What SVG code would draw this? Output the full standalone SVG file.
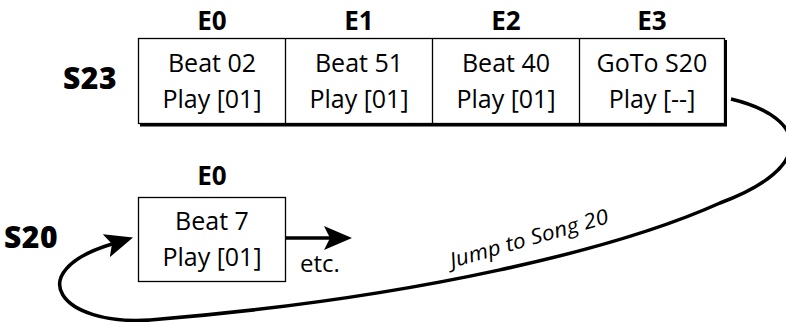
<svg xmlns="http://www.w3.org/2000/svg" width="786" height="322" viewBox="0 0 786 322">
<style>
  .t { font-family: "Open Sans", "Noto Sans", "Liberation Sans", sans-serif; fill: #000; }
  .cell { font-size: 25px; text-anchor: middle; }
  .hdr { font-size: 26px; font-weight: bold; text-anchor: middle; }
  .song { font-size: 30px; font-weight: 800; letter-spacing: 0.5px; }
  .box { fill: #fff; stroke: #000; stroke-width: 1.3; }
  .shadow { stroke: #000; stroke-width: 3; fill: none; }
  .conn { fill: none; stroke: #000; stroke-width: 3.5; }
</style>
<defs>
  <marker id="ah" markerUnits="userSpaceOnUse" markerWidth="30" markerHeight="26" refX="6" refY="12" orient="auto">
    <path d="M0,0 L28,12 L0,24 L6,12 Z" fill="#000"/>
  </marker>
</defs>
<rect width="786" height="322" fill="#fff"/>

<g id="S23">
  <text class="t song" x="63" y="89">S23</text>
  <line class="shadow" x1="140" y1="125" x2="727" y2="125"/>
  <line class="shadow" x1="725.5" y1="40" x2="725.5" y2="126"/>
  <rect class="box" x="138.5" y="38.5" width="586" height="85"/>
  <line x1="285.5" y1="38.5" x2="285.5" y2="123.5" stroke="#000" stroke-width="1.3"/>
  <line x1="432.5" y1="38.5" x2="432.5" y2="123.5" stroke="#000" stroke-width="1.3"/>
  <line x1="579.5" y1="38.5" x2="579.5" y2="123.5" stroke="#000" stroke-width="1.3"/>
</g>
<g id="S23-E0">
  <text class="t hdr" x="212" y="30">E0</text>
  <text class="t cell" x="212" y="72">Beat 02</text>
  <text class="t cell" x="212" y="108">Play [01]</text>
</g>
<g id="S23-E1">
  <text class="t hdr" x="359" y="30">E1</text>
  <text class="t cell" x="359" y="72">Beat 51</text>
  <text class="t cell" x="359" y="108">Play [01]</text>
</g>
<g id="S23-E2">
  <text class="t hdr" x="506" y="30">E2</text>
  <text class="t cell" x="506" y="72">Beat 40</text>
  <text class="t cell" x="506" y="108">Play [01]</text>
</g>
<g id="S23-E3">
  <text class="t hdr" x="652" y="30">E3</text>
  <text class="t cell" x="652" y="72">GoTo S20</text>
  <text class="t cell" x="652" y="108">Play [--]</text>
</g>

<g id="S20">
  <text class="t song" x="4" y="248">S20</text>
</g>
<g id="S20-E0">
  <text class="t hdr" x="212" y="185">E0</text>
  <rect class="box" x="138.5" y="197.5" width="147" height="84"/>
  <text class="t cell" x="212" y="230">Beat 7</text>
  <text class="t cell" x="212" y="266">Play [01]</text>
</g>

<g id="connectors">
  <path class="conn" d="M731,99 C810,118 815,168 720,203 C620,248 420,298 150,320 C60,326 20,272 112,244" marker-end="url(#ah)"/>
  <line class="conn" x1="286" y1="238" x2="330" y2="238" marker-end="url(#ah)"/>
  <text class="t" x="300" y="272" font-size="24">etc.</text>
  <text class="t" font-size="21" font-style="italic" textLength="164" lengthAdjust="spacingAndGlyphs" transform="translate(452,268) rotate(-16)">Jump to Song 20</text>
</g>
</svg>
